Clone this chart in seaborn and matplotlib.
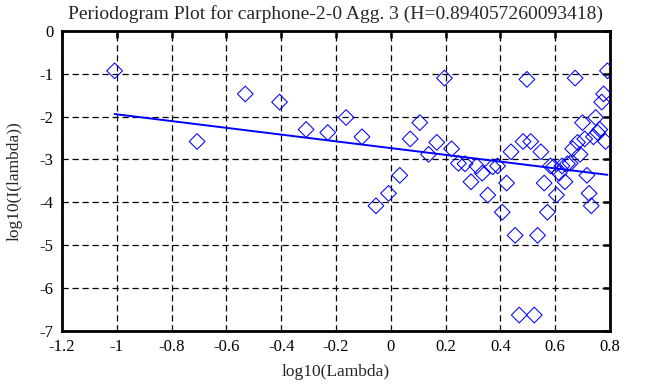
import numpy as np
import pandas as pd
import matplotlib
matplotlib.use("Agg")
import matplotlib.pyplot as plt
import seaborn as sns

# ---- data ----
log_lambda = [
    -1.008, -0.707, -0.531, -0.406, -0.309, -0.230, -0.163, -0.105, -0.054, -0.008,
    0.033, 0.071, 0.106, 0.138, 0.168, 0.196, 0.222, 0.247, 0.271, 0.293,
    0.314, 0.334, 0.354, 0.372, 0.390, 0.407, 0.423, 0.439, 0.454, 0.469,
    0.483, 0.497, 0.511, 0.524, 0.536, 0.548, 0.560, 0.572, 0.583, 0.594,
    0.605, 0.615, 0.625, 0.636, 0.645, 0.655, 0.664, 0.673, 0.682, 0.691,
    0.700, 0.708, 0.716, 0.724, 0.732, 0.740, 0.748, 0.755, 0.763, 0.770,
    0.777, 0.784, 0.791,
]
log_I = [
    -0.93, -2.58, -1.47, -1.66, -2.30, -2.37, -2.02, -2.47, -4.08, -3.79,
    -3.37, -2.52, -2.14, -2.88, -2.60, -1.10, -2.75, -3.09, -3.10, -3.52,
    -3.15, -3.32, -3.83, -3.17, -3.15, -4.23, -3.55, -2.82, -4.77, -6.63,
    -2.58, -1.13, -2.58, -6.63, -4.77, -2.82, -3.55, -4.23, -3.15, -3.17,
    -3.83, -3.32, -3.15, -3.52, -3.10, -3.09, -2.75, -1.10, -2.60, -2.88,
    -2.14, -2.52, -3.37, -3.79, -4.08, -2.47, -2.02, -2.37, -2.30, -1.66,
    -1.47, -2.58, -0.93,
]
H = 0.894057260093418
fit_intercept = -2.734
fit_slope = 1 - 2 * H

x_ticks = [-1.2, -1.0, -0.8, -0.6, -0.4, -0.2, 0.0, 0.2, 0.4, 0.6, 0.8]
x_ticklabels = ["-1.2", "-1", "-0.8", "-0.6", "-0.4", "-0.2", "0", "0.2", "0.4", "0.6", "0.8"]
y_ticks = [0, -1, -2, -3, -4, -5, -6, -7]
y_ticklabels = ["0", "-1", "-2", "-3", "-4", "-5", "-6", "-7"]

title = "Periodogram Plot for carphone-2-0 Agg. 3 (H=0.894057260093418)"
xlabel = "log10(Lambda)"
ylabel = "log10(I(lambda))"

# ---- plotting ----
sns.set_theme(style="white")
plt.rcParams["font.family"] = ["Liberation Serif", "DejaVu Serif"]
plt.rcParams["font.size"] = 12

df = pd.DataFrame({"x": log_lambda, "y": log_I})
fit_x = [log_lambda[0], log_lambda[-1]]
fit_df = pd.DataFrame({"x": fit_x,
                       "y": [fit_intercept + fit_slope * v for v in fit_x]})

fig, ax = plt.subplots(figsize=(6.53, 3.87), dpi=100)
fig.subplots_adjust(left=0.095, right=0.934, top=0.920, bottom=0.145)

ax.grid(True, color="black", linestyle=(0, (5, 3)), linewidth=0.9)
ax.set_axisbelow(True)

sns.lineplot(data=fit_df, x="x", y="y", ax=ax, color="#0000ff", linewidth=1.4,
             zorder=3, legend=False)
sns.scatterplot(data=df, x="x", y="y", ax=ax, marker="D", s=64,
                facecolor="none", edgecolor="#0000ff", linewidth=0.75,
                zorder=4, legend=False)

ax.set_xlim(-1.2, 0.8)
ax.set_ylim(-7, 0)
ax.set_xticks(x_ticks)
ax.set_xticklabels(x_ticklabels)
ax.set_yticks(y_ticks)
ax.set_yticklabels(y_ticklabels)
ax.tick_params(direction="in", length=5, width=1.8, top=True, right=True,
               labelsize=12, colors="black", pad=6)
for sp in ax.spines.values():
    sp.set_color("black")
    sp.set_linewidth(2)

ax.set_title(title, fontsize=14, pad=9)
ax.set_xlabel(xlabel, fontsize=12.5, labelpad=6)
ax.set_ylabel(ylabel, fontsize=12.5, labelpad=12)

fig.savefig("out.png", dpi=100)
